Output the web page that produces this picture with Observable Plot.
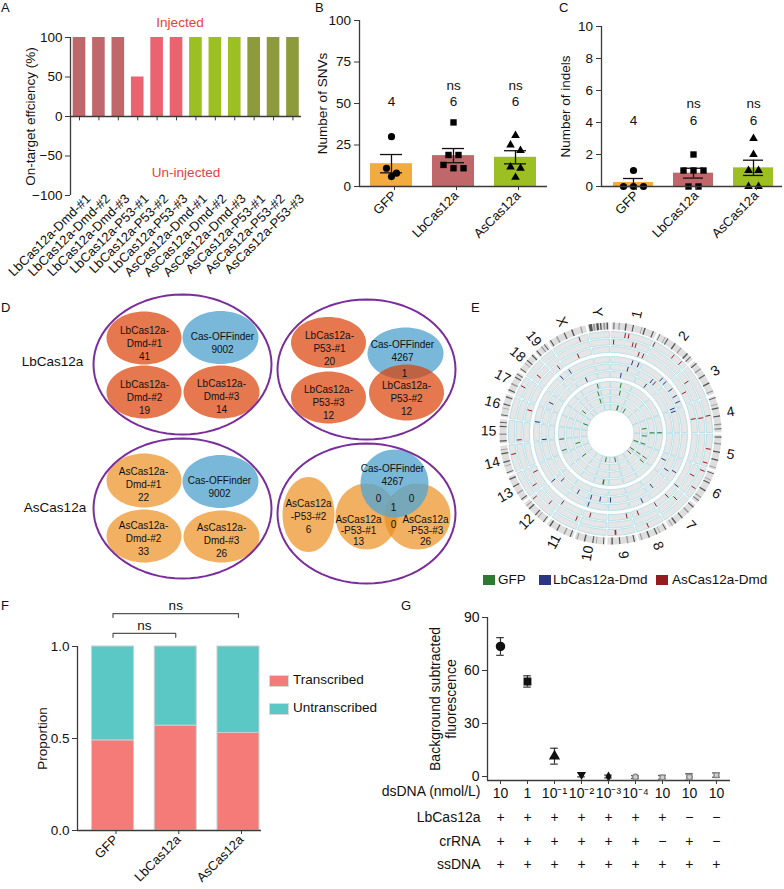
<!DOCTYPE html>
<html><head><meta charset="utf-8">
<script src="https://cdn.jsdelivr.net/npm/d3@7"></script>
<script src="https://cdn.jsdelivr.net/npm/@observablehq/plot@0.6"></script>
<style>
body{margin:0;background:#fff;font-family:"Liberation Sans",Arial,Helvetica,sans-serif;color:#111;}
#root{position:relative;width:784px;height:889px;overflow:hidden;background:#fff;}
.panel{position:absolute;}
.letter{position:absolute;font-size:13px;line-height:13px;}
.leg{position:absolute;white-space:nowrap;line-height:14px;}
.sw{position:absolute;}
</style></head><body><div id="root"></div>
<script>
// ---------------- DATA ----------------
// Panel A
const aSamples = ["LbCas12a-Dmd-#1","LbCas12a-Dmd-#2","LbCas12a-Dmd-#3","LbCas12a-P53-#1","LbCas12a-P53-#2","LbCas12a-P53-#3","AsCas12a-Dmd-#1","AsCas12a-Dmd-#2","AsCas12a-Dmd-#3","AsCas12a-P53-#1","AsCas12a-P53-#2","AsCas12a-P53-#3"];
const aEfficiency = [100,100,100,50,100,100,100,100,100,100,100,100];
const aGroups = ["LbCas12a-Dmd","LbCas12a-Dmd","LbCas12a-Dmd","LbCas12a-P53","LbCas12a-P53","LbCas12a-P53","AsCas12a-Dmd","AsCas12a-Dmd","AsCas12a-Dmd","AsCas12a-P53","AsCas12a-P53","AsCas12a-P53"];
const aGroupNames = ["LbCas12a-Dmd","LbCas12a-P53","AsCas12a-Dmd","AsCas12a-P53"];
const aTicks = [100,50,0,-50,-100];

// Panels B & C
const bcGroups = ["GFP","LbCas12a","AsCas12a"];
const bcCounts = ["4","6","6"];
const bcSig = ["","ns","ns"];
const snvGFP = [30, 11, 8, 6];
const snvLb = [38.6, 19, 19, 13, 11, 11];
const snvAs = [30.7, 25, 21.7, 11.7, 11, 5.5];
const indelGFP = [1, 0, 0, 0];
const indelLb = [2, 1, 1, 1, 0, 0];
const indelAs = [3, 2, 1, 1, 0, 0];
const snvTicks = [0,25,50,75,100];
const indelTicks = [0,2,4,6,8,10];

// Panel D (Venn counts)
const lbDmdCounts = [41, 19, 14];
const lbP53Counts = [20, 12, 12];
const asDmdCounts = [22, 33, 26];
const asP53Counts = [13, 6, 26];
const offFinderCounts = [9002, 4267];
const lbP53OffOverlap = 1;              // LbCas12a-P53-#2 ∩ Cas-OFFinder
const asP53Overlaps = ["0","0","1","0"]; // #1∩OFF, #3∩OFF, #1∩#3∩OFF, #1∩#3

// Panel E (circos)
const chrNames = ["1","2","3","4","5","6","7","8","9","10","11","12","13","14","15","16","17","18","19","X","Y"];
const chrSizes = [195,182,160,157,152,150,145,130,125,131,122,120,121,125,104,98,95,91,61,171,92];
const chrBands = [
 "8:4 30:5 58:6 90:5 128:3 140:6 178:5",
 "5:3 30:3 42:5 78:6 110:5 145:6 165:4",
 "10:5 38:6 70:5 108:6 145:5",
 "6:4 35:3 50:6 85:5 120:6 140:4",
 "8:5 36:6 72:5 106:6 140:4",
 "5:4 35:3 48:5 84:6 118:5 135:4",
 "10:5 40:6 75:5 110:6 128:4",
 "6:4 34:3 48:5 82:6 115:5",
 "8:5 36:6 70:5 102:6",
 "5:4 36:3 50:5 85:6 118:5",
 "8:5 35:6 70:5 104:6",
 "6:4 36:3 50:5 86:6 104:4",
 "8:5 38:6 72:5 106:6",
 "6:4 36:3 52:5 88:6 106:4",
 "8:5 36:6 70:5 88:4",
 "6:4 36:3 52:5 84:5",
 "8:5 36:6 68:5 84:4",
 "6:4 36:3 50:5 80:5",
 "6:5 32:6 48:4",
 "8:5 38:6 74:5 108:6 148:5",
 "4:14 22:8 36:10 52:6 66:8 80:6"
];
// [chromosome, position (Mb), sample track]
const asDmdSites = [["1",64,0],["1",81,0],["1",11,1],["1",109,1],["1",125,1],["1",154,2],["1",180,2],["2",2,0],["2",108,0],["2",154,0],["3",55,1],["3",96,2],["4",78,0],["4",83,1],["4",81,2],["5",68,0],["5",134,0],["6",12,0],["6",53,1],["6",102,0],["6",145,2],["7",40,1],["7",64,2],["7",143,2],["8",72,0],["8",97,2],["9",22,2],["9",87,0],["9",90,0],["10",91,2],["11",14,1],["11",120,2],["12",40,1],["12",110,0],["13",31,1],["13",90,2],["14",80,0],["15",10,1],["16",59,2],["17",50,0],["18",30,1],["19",38,2],["X",94,2],["X",130,0]];
const lbDmdSites = [["1",134,3],["1",174,3],["1",117,4],["1",77,5],["2",84,5],["2",100,4],["2",125,4],["2",142,3],["2",173,3],["3",39,3],["3",88,3],["3",128,3],["3",155,4],["4",7,4],["6",45,5],["6",85,3],["6",102,4],["7",97,4],["8",48,3],["9",112,4],["10",50,4],["10",115,4],["10",118,3],["11",72,4],["12",79,4],["12",117,3],["15",1,4],["16",2,3],["17",41,4],["19",14,3],["X",8,3],["X",81,5]];
const gfpSites = [["X",138,8],["X",140,7],["X",155,6],["1",93,6],["1",101,7],["1",117,9],["1",122,9],["2",43,9],["4",97,8],["4",155,6],["4",155,7],["5",28,8],["5",130,9],["5",135,8],["6",118,8],["6",118,7],["6",120,9],["7",40,9],["7",10,7],["9",30,9],["10",42,6],["10",47,6],["10",59,9],["12",118,8],["14",18,6],["14",124,6],["14",46,8],["16",91,9],["18",33,8]];
const eLegend = ["GFP","LbCas12a-Dmd","AsCas12a-Dmd"];

// Panel F
const fGroups = ["GFP","LbCas12a","AsCas12a"];
const fTranscribed = [0.49, 0.57, 0.53];
const fStates = ["Transcribed","Untranscribed"];
const fComparisons = [[0,1,"ns"],[0,2,"ns"]];

// Panel G
const gConc = ["10","1","10⁻¹","10⁻²","10⁻³","10⁻⁴","10","10","10"];
const gMean = [73.6, 53.8, 11.5, 1.0, 0.0, -0.3, -0.5, -0.3, 0.8];
const gErr = [5.0, 3.2, 4.5, 1.2, 0.8, 0.8, 1.0, 1.8, 1.2];
const gLbCas12a = ["+","+","+","+","+","+","+","−","−"];
const gCrRNA = ["+","+","+","+","+","+","−","+","−"];
const gSsDNA = ["+","+","+","+","+","+","+","+","+"];
const gTicks = [0,30,60,90];

// ---------------- STYLE ----------------
const FONT = "'Liberation Sans', Arial, Helvetica, sans-serif";
const baseStyle = {fontFamily: FONT, fontSize: "12.5px", background: "transparent", overflow: "visible", color: "#111"};
const AX = "#3a3a3a";
const aGroupColors = ["#c0676b","#ea6470","#9cbf22","#8e9b3c"];
const bcColors = ["#f2ab3e","#c0676b","#9cbf22"];
const bcSymbols = ["circle","square","triangle"];
const fColors = ["#f47b78","#5bc8c6"];
const eColors = ["#2b7a30","#2b3580","#951c1c"];
const root = document.getElementById("root");
function place(node, left, top, width) {
  const d = document.createElement("div"); d.className = "panel";
  d.style.left = left + "px"; d.style.top = top + "px"; if (width) d.style.width = width + "px";
  d.appendChild(node); root.appendChild(d); return d;
}
function letter(t, left, top) { const d = document.createElement("div"); d.className = "letter"; d.textContent = t; d.style.left = left + "px"; d.style.top = top + "px"; root.appendChild(d); }
const yTitle = (s, dx, extra = {}) => Plot.text([s], {text: d => d, frameAnchor: "left", textAnchor: "middle", lineAnchor: "middle", rotate: -90, dx, fontSize: 13.5, ...extra});

// ---------------- PANEL A ----------------
{
  const rows = aSamples.map((s, i) => ({i, s, v: aEfficiency[i], c: aGroupColors[aGroupNames.indexOf(aGroups[i])]}));
  const x0 = -0.464;
  const A = Plot.plot({
    width: 305, height: 285, marginLeft: 70, marginRight: 4, marginTop: 37, marginBottom: 90,
    style: baseStyle,
    x: {domain: [x0, 11.44]},
    y: {domain: [-100, 100]},
    color: {type: "identity"},
    marks: [
      Plot.rect(rows, {x1: d => d.i - 0.325, x2: d => d.i + 0.325, y1: 0, y2: "v", fill: "c"}),
      Plot.ruleY([0], {stroke: AX, strokeWidth: 1.3}),
      Plot.ruleX(rows, {x: "i", y1: 0, y2: -5.5, stroke: AX}),
      Plot.ruleX([x0], {stroke: AX, strokeWidth: 1.3}),
      Plot.axisY({ticks: aTicks, tickSize: 5, tickPadding: 3, fontSize: 13.5, label: null, stroke: AX}),
      Plot.axisX({ticks: d3.range(aSamples.length), tickFormat: i => aSamples[i], tickRotate: -45, tickSize: 0, tickPadding: 1, dx: 9, fontSize: 13, label: null}),
      yTitle("On-target effciency (%)", -40),
      Plot.text(["Injected"], {text: d => d, frameAnchor: "top", dx: -6, dy: -20, fill: "#e8403f", fontSize: 13.5}),
      Plot.text(["Un-injected"], {text: d => d, frameAnchor: "middle", y: -71, fill: "#e8403f", fontSize: 13.5})
    ]
  });
  place(A, 0, 0, 305);
}

// ---------------- PANELS B & C ----------------
function swarm(values, pxPerUnit) {
  const sorted = values.map((v, i) => ({v, i})).sort((a, b) => b.v - a.v);
  const rows = [];
  for (const p of sorted) { const last = rows[rows.length - 1]; if (last && (last[0].v - p.v) * pxPerUnit < 7) last.push(p); else rows.push([p]); }
  const off = new Array(values.length);
  for (const r of rows) r.forEach((p, k) => off[p.i] = (k - (r.length - 1) / 2) * 10);
  return off;
}
function scatterPanel(o) {
  const stats = o.sets.map((v, i) => { const m = d3.mean(v), se = d3.deviation(v) / Math.sqrt(v.length); return {i, m, lo: Math.max(0, m - se), hi: m + se, c: bcColors[i], count: bcCounts[i], sig: bcSig[i]}; });
  const pts = o.sets.flatMap((v, i) => { const off = swarm(v, o.pxPerUnit); return v.map((y, k) => ({i, x: i + off[k] / o.step, y})); });
  const hb = o.barPx / 2 / o.step, hc = o.capPx / 2 / o.step;
  return Plot.plot({
    width: o.width, height: o.height, marginLeft: o.marginLeft, marginRight: o.marginRight, marginTop: o.marginTop, marginBottom: o.marginBottom,
    style: baseStyle,
    x: {domain: o.xDomain},
    y: {domain: o.yDomain},
    color: {type: "identity"},
    marks: [
      Plot.rect(stats, {x1: d => d.i - hb, x2: d => d.i + hb, y1: 0, y2: "m", fill: "c"}),
      Plot.ruleX(stats, {x: "i", y1: "lo", y2: "hi", stroke: "#111", strokeWidth: 1.3}),
      Plot.ruleY(stats, {y: "hi", x1: d => d.i - hc, x2: d => d.i + hc, stroke: "#111", strokeWidth: 1.3}),
      Plot.ruleY(stats, {y: "lo", x1: d => d.i - hc, x2: d => d.i + hc, stroke: "#111", strokeWidth: 1.3}),
      ...o.sets.map((v, i) => Plot.dot(pts.filter(p => p.i === i), {x: "x", y: "y", symbol: bcSymbols[i], fill: "#000", r: i === 2 ? 3.2 : 3.6})),
      Plot.ruleX([o.xDomain[0]], {stroke: AX, strokeWidth: 1.3}),
      Plot.ruleY([0], {stroke: AX, strokeWidth: 1.3}),
      Plot.axisY({ticks: o.yTicks, tickSize: 5, tickPadding: 3.5, fontSize: 13.5, label: null, stroke: AX}),
      Plot.axisX({ticks: [0, 1, 2], tickFormat: i => bcGroups[i], tickRotate: -45, tickSize: 4, tickPadding: 3, dx: 3, fontSize: 13, label: null, stroke: AX}),
      Plot.text(stats, {x: "i", y: o.countY, text: "count", fontSize: 13.5}),
      Plot.text(stats, {x: "i", y: o.sigY, text: "sig", fontSize: 13.5}),
      yTitle(o.ylabel, o.labelDx)
    ]
  });
}
place(scatterPanel({sets: [snvGFP, snvLb, snvAs], width: 250, height: 230, marginLeft: 59, marginRight: 3, marginTop: 20, marginBottom: 44,
  xDomain: [-0.516, 2.516], yDomain: [0, 100], yTicks: snvTicks, step: 62, barPx: 42, capPx: 22, pxPerUnit: 1.66,
  countY: 50.9, sigY: 61, ylabel: "Number of SNVs", labelDx: -37}), 300, 0, 250);
place(scatterPanel({sets: [indelGFP, indelLb, indelAs], width: 239, height: 230, marginLeft: 56, marginRight: 2, marginTop: 26, marginBottom: 44,
  xDomain: [-0.533, 2.483], yDomain: [0, 10], yTicks: indelTicks, step: 60, barPx: 40, capPx: 20, pxPerUnit: 16,
  countY: 4.1, sigY: 5.2, ylabel: "Number of indels", labelDx: -36}), 545, 0, 239);

// ---------------- PANEL D (Venn) ----------------
{
  const LB = "#da3e04", AS = "#eb8e1f", OFF = "#7ab8d9", OFF2 = "#59a6cf";
  const rings = [[182,79,89,70],[366,84,89,70],[182,223,89,70],[366,228,89,70]];
  const sets = [
    {e:[143.5,52.5,37.5,26.5], c:LB, o:0.7, t:[144,57.5], s:`LbCas12a-\nDmd-#1\n${lbDmdCounts[0]}`},
    {e:[220,52,38,26.5], c:OFF, o:1, t:[222,56.5], s:`Cas-OFFinder\n${offFinderCounts[0]}`},
    {e:[143.5,106.5,37.5,26.5], c:LB, o:0.7, t:[144,111], s:`LbCas12a-\nDmd-#2\n${lbDmdCounts[1]}`},
    {e:[221,106.5,38,26.5], c:LB, o:0.7, t:[221,110.7], s:`LbCas12a-\nDmd-#3\n${lbDmdCounts[2]}`},
    {e:[328,57,37.5,25.5], c:LB, o:0.7, t:[329,62.5], s:`LbCas12a-\nP53-#1\n${lbP53Counts[0]}`},
    {e:[405,68,38,26], c:OFF, o:1, t:[402,65], s:`Cas-OFFinder\n${offFinderCounts[1]}`},
    {e:[328,112,37.5,26], c:LB, o:0.7, t:[328,116], s:`LbCas12a-\nP53-#3\n${lbP53Counts[2]}`},
    {e:[406,107,37.5,28], c:LB, o:0.7, t:[406,112], s:`LbCas12a-\nP53-#2\n${lbP53Counts[1]}`},
    {e:[143.5,195,37.5,27], c:AS, o:0.7, t:[143,198], s:`AsCas12a-\nDmd-#1\n${asDmdCounts[0]}`},
    {e:[220,196,38,26.5], c:OFF, o:1, t:[219,201], s:`Cas-OFFinder\n${offFinderCounts[0]}`},
    {e:[143.5,250.5,37.5,26.5], c:AS, o:0.7, t:[143,252], s:`AsCas12a-\nDmd-#2\n${asDmdCounts[1]}`},
    {e:[221,251,38,26], c:AS, o:0.7, t:[221,254.5], s:`AsCas12a-\nDmd-#3\n${asDmdCounts[2]}`},
    {e:[308,229,26,37.5], c:AS, o:0.7, t:[308,230.5], s:`AsCas12a\n-P53-#2\n${asP53Counts[1]}`},
    {e:[366,231,31,33], c:AS, o:0.7, t:[358,245], s:`AsCas12a\n-P53-#1\n${asP53Counts[0]}`, lh:1.07},
    {e:[417,231,33,33], c:AS, o:0.7, t:[425,245], s:`AsCas12a\n-P53-#3\n${asP53Counts[2]}`, lh:1.07},
    {e:[394,198,34,34], c:OFF2, o:0.8, t:[392,188.5], s:`Cas-OFFinder\n${offFinderCounts[1]}`}
  ];
  const extraLabels = [
    {x:404, y:88, s:String(lbP53OffOverlap)},
    {x:378, y:213.5, s:asP53Overlaps[0]}, {x:411, y:213.5, s:asP53Overlaps[1]},
    {x:393, y:222.5, s:asP53Overlaps[2]}, {x:393, y:239, s:asP53Overlaps[3]}
  ];
  const ell = (cx, cy, rx, ry, id, extra) => d3.range(72).map(k => ({id, x: cx + rx * Math.cos(k * Math.PI / 36), y: cy + ry * Math.sin(k * Math.PI / 36), ...extra}));
  const ringPts = rings.flatMap((r, i) => ell(...r, "r" + i, {}));
  const setPts = sets.flatMap((s, i) => ell(...s.e, "s" + i, {c: s.c, o: s.o}));
  const txt = sets.map(s => ({x: s.t[0], y: s.t[1], s: s.s, lh: s.lh || 1.3}));
  const D = Plot.plot({
    width: 470, height: 305, margin: 0, style: baseStyle,
    x: {domain: [0, 470], range: [0, 470], axis: null},
    y: {domain: [0, 305], range: [0, 305], axis: null},
    color: {type: "identity"}, opacity: {type: "identity"},
    marks: [
      Plot.line(setPts, {x: "x", y: "y", z: "id", fill: "c", fillOpacity: "o", stroke: "none", curve: "linear-closed"}),
      Plot.line(ringPts, {x: "x", y: "y", z: "id", fill: "none", stroke: "#7b2d9c", strokeWidth: 2, curve: "linear-closed"}),
      Plot.text(txt.filter(d => d.lh > 1.2), {x: "x", y: "y", text: "s", fontSize: 10, lineHeight: 1.3}),
      Plot.text(txt.filter(d => d.lh <= 1.2), {x: "x", y: "y", text: "s", fontSize: 10, lineHeight: 1.07}),
      Plot.text(extraLabels, {x: "x", y: "y", text: "s", fontSize: 10}),
      Plot.text(["LbCas12a", "AsCas12a"], {x: [52, 54.5], y: [76, 222], text: d => d, fontSize: 13.5})
    ]
  });
  place(D, 0, 285, 470);
}

// ---------------- PANEL E (circos) ----------------
{
  const CX = 140, CY = 138;
  const ideoR = [104, 111];
  const trackR = [[96,102],[88.5,94.5],[81,87],[71,77],[63.5,69.5],[56,62],[46,52],[38.5,44.5],[31,37],[23.5,29.5]];
  const gap = 1.2;
  const k = (360 - gap * chrNames.length) / d3.sum(chrSizes);
  const start = []; let acc = gap / 2;
  chrSizes.forEach(s => { start.push(acc); acc += s * k + gap; });
  const ang = (ci, mb) => start[ci] + mb * k;
  const polar = (a, r) => ({x: CX + r * Math.sin(a * Math.PI / 180), y: CY - r * Math.cos(a * Math.PI / 180)});
  function sector(a0, a1, r0, r1, id, extra) {
    const n = Math.max(2, Math.ceil((a1 - a0) / 1.5)); const pts = [];
    for (let j = 0; j <= n; j++) pts.push({...polar(a0 + (a1 - a0) * j / n, r1), id, ...extra});
    for (let j = n; j >= 0; j--) pts.push({...polar(a0 + (a1 - a0) * j / n, r0), id, ...extra});
    return pts;
  }
  const trackPts = [], ideoPts = [], bandPts = [];
  chrNames.forEach((c, ci) => {
    const a0 = start[ci], a1 = start[ci] + chrSizes[ci] * k;
    trackR.forEach((r, ti) => trackPts.push(...sector(a0, a1, r[0], r[1], `t${ci}-${ti}`, {})));
    ideoPts.push(...sector(a0, a1, ideoR[0], ideoR[1], `i${ci}`, {}));
    chrBands[ci].split(" ").forEach((b, bi) => {
      const [s, w] = b.split(":").map(Number);
      bandPts.push(...sector(ang(ci, s), ang(ci, Math.min(s + w, chrSizes[ci])), ideoR[0], ideoR[1], `b${ci}-${bi}`, {c: bi % 3 === 1 ? "#9a9a9a" : "#555"}));
    });
  });
  const siteColor = t => t < 3 ? eColors[2] : t < 6 ? eColors[1] : eColors[0];
  const sites = [...asDmdSites, ...lbDmdSites, ...gfpSites].map(([c, mb, t]) => {
    const a = ang(chrNames.indexOf(c), mb); const p0 = polar(a, trackR[t][0] + 0.6), p1 = polar(a, trackR[t][1] - 0.6);
    return {x1: p0.x, y1: p0.y, x2: p1.x, y2: p1.y, c: siteColor(t)};
  });
  const labels = chrNames.map((c, ci) => { const mid = start[ci] + chrSizes[ci] * k / 2; const p = polar(mid, 122); return {...p, c, rot: mid < 180 ? mid - 90 : mid - 270}; });
  const E = Plot.plot({
    width: 314, height: 290, margin: 0, style: baseStyle,
    x: {domain: [0, 314], range: [0, 314], axis: null},
    y: {domain: [0, 290], range: [0, 290], axis: null},
    color: {type: "identity"},
    marks: [
      Plot.line(trackPts, {x: "x", y: "y", z: "id", fill: "#e6e6e6", stroke: "#a9dce7", strokeWidth: 0.8, curve: "linear-closed"}),
      Plot.line(ideoPts, {x: "x", y: "y", z: "id", fill: "#dedede", stroke: "none", curve: "linear-closed"}),
      Plot.line(bandPts, {x: "x", y: "y", z: "id", fill: "c", stroke: "none", curve: "linear-closed"}),
      Plot.link(sites, {x1: "x1", y1: "y1", x2: "x2", y2: "y2", stroke: "c", strokeWidth: 1}),
      Plot.text(labels, {x: "x", y: "y", text: "c", rotate: "rot", fontSize: 14})
    ]
  });
  place(E, 470, 295, 314);
  const legX = [[483, 498], [539, 553], [656, 672]];
  eLegend.forEach((name, i) => {
    const sw = document.createElement("div"); sw.className = "sw";
    Object.assign(sw.style, {left: legX[i][0] + "px", top: "575px", width: "12px", height: "10px", background: eColors[i]});
    root.appendChild(sw);
    const t = document.createElement("div"); t.className = "leg"; t.textContent = name;
    Object.assign(t.style, {left: legX[i][1] + "px", top: "573px", fontSize: "13.5px"});
    root.appendChild(t);
  });
}

// ---------------- PANEL F ----------------
{
  const step = 62.75, hb = 21 / step;
  const segs = fGroups.flatMap((g, i) => [
    {i, y1: 0, y2: fTranscribed[i], c: fColors[0]},
    {i, y1: fTranscribed[i], y2: 1, c: fColors[1]}
  ]);
  const brLevels = [1.071, 1.179], brDrop = 0.021;
  const brPts = fComparisons.flatMap(([a, b], j) => [
    {j, x: a, y: brLevels[j] - brDrop}, {j, x: a, y: brLevels[j]}, {j, x: b, y: brLevels[j]}, {j, x: b, y: brLevels[j] - brDrop}
  ]);
  const brText = fComparisons.map(([a, b, s], j) => ({x: (a + b) / 2, y: brLevels[j] + 0.042, s}));
  const x0 = -0.566;
  const F = Plot.plot({
    width: 400, height: 289, marginLeft: 77, marginRight: 139, marginTop: 46, marginBottom: 59,
    style: baseStyle,
    x: {domain: [x0, 2.367]},
    y: {domain: [0, 1]},
    color: {type: "identity"},
    marks: [
      Plot.rect(segs, {x1: d => d.i - hb, x2: d => d.i + hb, y1: "y1", y2: "y2", fill: "c", stroke: "#c8d0d0", strokeWidth: 1}),
      Plot.ruleX([x0], {stroke: AX, strokeWidth: 1.3}),
      Plot.ruleY([0], {stroke: AX, strokeWidth: 1.3}),
      Plot.line(brPts, {x: "x", y: "y", z: "j", stroke: "#555", strokeWidth: 1.2}),
      Plot.text(brText, {x: "x", y: "y", text: "s", fontSize: 13.5}),
      Plot.axisY({ticks: [0, 0.5, 1], tickFormat: d3.format(".1f"), tickSize: 5, tickPadding: 3, fontSize: 13.5, label: null, stroke: AX}),
      Plot.axisX({ticks: [0, 1, 2], tickFormat: i => fGroups[i], tickRotate: -45, tickSize: 4, tickPadding: 3, dx: 3, fontSize: 13, label: null, stroke: AX}),
      yTitle("Proportion", -35)
    ]
  });
  place(F, 0, 600, 400);
  fStates.forEach((s, i) => {
    const sw = document.createElement("div"); sw.className = "sw";
    Object.assign(sw.style, {left: "269px", top: (675 + 28 * i) + "px", width: "18px", height: "10px", background: fColors[i], border: "1px solid #d5dada"});
    root.appendChild(sw);
    const t = document.createElement("div"); t.className = "leg"; t.textContent = s;
    Object.assign(t.style, {left: "293px", top: (673 + 28 * i) + "px", fontSize: "13.5px"});
    root.appendChild(t);
  });
}

// ---------------- PANEL G ----------------
{
  const gSymbols = ["circle","square","triangle","triangle","diamond","circle","square","circle","square"];
  const gRotate = [0,0,0,180,0,0,0,0,0];
  const gSize = [4, 3.6, 3.2, 2.4, 2.2, 2.8, 2.6, 2.8, 2.6];
  const rows = gMean.map((m, i) => ({i, m, lo: m - gErr[i], hi: m + gErr[i], sym: gSymbols[i], rot: gRotate[i], r: gSize[i], fill: i < 5 ? "#111" : "#cfcfcf", stroke: i < 5 ? "#111" : "#8a8a8a"}));
  const x0 = -0.481, y0 = -2.26, hc = 0.14;
  const rowText = (arr, dy) => Plot.text(d3.range(arr.length), {x: d => d, text: d => arr[d], frameAnchor: "bottom", dy, fontSize: 14});
  const rowLabel = (s, dy) => Plot.text([s], {text: d => d, frameAnchor: "bottom-left", dx: -7, dy, textAnchor: "end", fontSize: 14});
  const G = Plot.plot({
    width: 404, height: 289, marginLeft: 107, marginRight: 54, marginTop: 17, marginBottom: 109,
    style: baseStyle,
    x: {domain: [x0, 8.52]},
    y: {domain: [y0, 90]},
    r: {type: "identity"},
    color: {type: "identity"},
    symbol: {type: "identity"},
    marks: [
      Plot.ruleX([x0], {stroke: AX, strokeWidth: 1.3}),
      Plot.ruleY([y0], {stroke: AX, strokeWidth: 1.3}),
      Plot.ruleX(rows, {x: "i", y1: "lo", y2: "hi", stroke: "#333", strokeWidth: 1.2}),
      Plot.ruleY(rows, {y: "hi", x1: d => d.i - hc, x2: d => d.i + hc, stroke: "#333", strokeWidth: 1.2}),
      Plot.ruleY(rows, {y: "lo", x1: d => d.i - hc, x2: d => d.i + hc, stroke: "#333", strokeWidth: 1.2}),
      Plot.dot(rows, {x: "i", y: "m", symbol: "sym", rotate: "rot", r: "r", fill: "fill", stroke: "stroke"}),
      Plot.axisY({ticks: gTicks, tickSize: 5, tickPadding: 3, fontSize: 14, label: null, stroke: AX}),
      Plot.axisX({ticks: d3.range(gConc.length), tickFormat: i => gConc[i], tickSize: 4, tickPadding: 4, fontSize: 14, label: null, stroke: AX}),
      rowLabel("dsDNA (nmol/L)", 15),
      rowLabel("LbCas12a", 41), rowText(gLbCas12a, 41),
      rowLabel("crRNA", 65), rowText(gCrRNA, 65),
      rowLabel("ssDNA", 88), rowText(gSsDNA, 88),
      yTitle("Background subtracted\nfluorescence", -44.5, {lineHeight: 1.15, fontSize: 14})
    ]
  });
  place(G, 380, 600, 404);
}

// panel letters
letter("A", 1, 1); letter("B", 315, 1); letter("C", 559, 1);
letter("D", 1, 301); letter("E", 471, 301); letter("F", 1, 599); letter("G", 401, 599);
</script></body></html>
